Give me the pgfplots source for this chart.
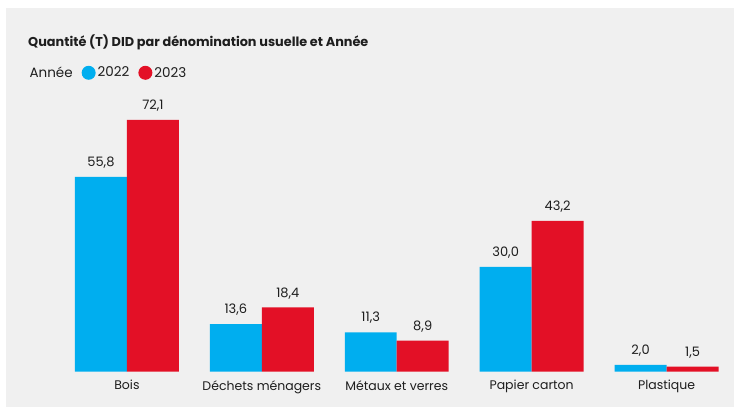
\documentclass[border=0pt]{standalone}
\usepackage{fontspec}
\setmainfont{Poppins}
\usepackage{pgfplots}
\pgfplotsset{compat=1.18}
\definecolor{bleu}{RGB}{0,174,239}
\definecolor{rouge}{RGB}{227,16,38}
\definecolor{fond}{RGB}{240,240,240}
\definecolor{texte}{RGB}{30,30,30}
\begin{document}
\begin{tikzpicture}
\fill[white] (0pt,0pt) rectangle (734pt,409pt);
\fill[fond] (6pt,2pt) rectangle (734pt,401pt);
\node[anchor=west, font=\fontsize{12.85}{14}\selectfont\bfseries, text=texte, inner sep=0pt] at (28pt,367pt) {Quantité (T) DID par dénomination usuelle et Année};
\begin{axis}[
  at={(59.5pt,37pt)}, anchor=south west,
  scale only axis, width=675pt, height=279.6pt,
  ybar=0pt, bar width=52pt,
  xmin=-0.5, xmax=4.5, ymin=0, ymax=80,
  axis line style={draw=none},
  axis y line=none,
  axis x line*=bottom,
  xtick={0,1,2,3,4},
  xticklabels={Bois, Déchets ménagers, Métaux et verres, Papier carton, Plastique},
  ytick=\empty,
  major tick length=0pt,
  tick label style={font=\fontsize{12.5}{14}\selectfont, text=texte},
  xticklabel style={yshift=-5pt},
  nodes near coords,
  nodes near coords style={font=\fontsize{13}{14}\selectfont, text=texte, yshift=5pt},
  /pgf/number format/.cd, fixed, fixed zerofill, precision=1, use comma, assume math mode=true,
  /pgfplots/.cd,
  legend columns=-1,
  legend style={draw=none, fill=none, at={(-0.052,1.07)}, anchor=west, font=\fontsize{13.5}{14}\selectfont, text=texte,
    /tikz/every even column/.append style={column sep=7pt}},
  legend image code/.code={\fill[#1] (0.3em,0pt) circle (7pt);},
]
\addlegendimage{empty legend}
\addlegendentry{Année}
\addplot[draw=none, fill=bleu] coordinates {(0,55.8) (1,13.6) (2,11.3) (3,30.0) (4,2.0)};
\addlegendentry{2022}
\addplot[draw=none, fill=rouge] coordinates {(0,72.1) (1,18.4) (2,8.9) (3,43.2) (4,1.5)};
\addlegendentry{2023}
\end{axis}
\end{tikzpicture}
\end{document}
